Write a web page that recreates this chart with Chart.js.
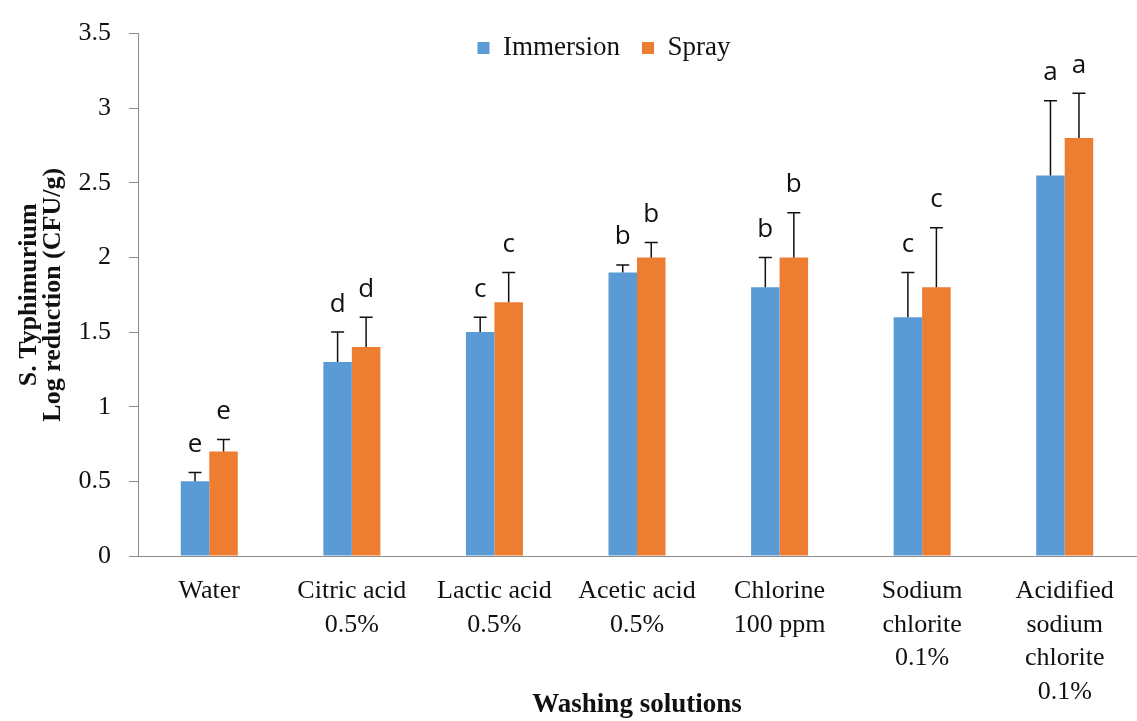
<!DOCTYPE html>
<html>
<head>
<meta charset="utf-8">
<script src="https://cdn.jsdelivr.net/npm/chart.js@4.4.1/dist/chart.umd.min.js"></script>
<style>
html, body { margin: 0; padding: 0; background: #fff; }
</style>
</head>
<body>
<canvas id="myChart" width="1137" height="721"></canvas>
<script>
// data
const categories = ["Water", ["Citric acid", "0.5%"], ["Lactic acid", "0.5%"], ["Acetic acid", "0.5%"],
    ["Chlorine", "100 ppm"], ["Sodium", "chlorite", "0.1%"], ["Acidified", "sodium", "chlorite", "0.1%"]];
const seriesNames = ["Immersion", "Spray"];
const immersion = [0.5, 1.3, 1.5, 1.9, 1.8, 1.6, 2.55];
const spray = [0.7, 1.4, 1.7, 2.0, 2.0, 1.8, 2.8];
const immersionErr = [0.06, 0.2, 0.1, 0.05, 0.2, 0.3, 0.5];
const sprayErr = [0.08, 0.2, 0.2, 0.1, 0.3, 0.4, 0.3];
const immersionLetters = ["e", "d", "c", "b", "b", "c", "a"];
const sprayLetters = ["e", "d", "c", "b", "b", "c", "a"];
const yMax = 3.5;
const yStep = 0.5;

Chart.defaults.font.family = '"Liberation Serif", "Times New Roman", serif';
Chart.defaults.color = "#111";

// error bars + significance letters on top of each bar
const errorBars = {
    id: "errorBars",
    afterDatasetsDraw(chart) {
        let ctx = chart.ctx;
        let yScale = chart.scales.y;
        ctx.save();
        chart.data.datasets.forEach((ds, i) => {
            let meta = chart.getDatasetMeta(i);
            meta.data.forEach((bar, j) => {
                let top = yScale.getPixelForValue(ds.data[j] + ds.errors[j]);
                ctx.strokeStyle = "#111";
                ctx.lineWidth = 1.5;
                ctx.beginPath();
                ctx.moveTo(bar.x, bar.y);
                ctx.lineTo(bar.x, top);
                ctx.moveTo(bar.x - 6.5, top);
                ctx.lineTo(bar.x + 6.5, top);
                ctx.stroke();
                ctx.fillStyle = "#111";
                ctx.font = '26px "Open Sans", sans-serif';
                ctx.textAlign = "center";
                ctx.textBaseline = "middle";
                ctx.fillText(ds.letters[j], bar.x, top - 28);
            });
        });
        ctx.restore();
    }
};

// legend sits inside the plot top, a bit left of centre
const legendPlace = {
    id: "legendPlace",
    beforeInit(chart) {
        const fit = chart.legend.fit;
        chart.legend.fit = function () {
            fit.call(this);
            this.height = 21;
        };
    },
    afterLayout(chart) {
        chart.legend.left = 72;
        chart.legend.right = 1136;
        chart.legend.bottom = 62;
    }
};

new Chart("myChart", {
    type: "bar",
    data: {
        labels: categories,
        datasets: [{
            label: seriesNames[0],
            data: immersion,
            errors: immersionErr,
            letters: immersionLetters,
            backgroundColor: "#5B9BD5",
            borderWidth: 0
        }, {
            label: seriesNames[1],
            data: spray,
            errors: sprayErr,
            letters: sprayLetters,
            backgroundColor: "#ED7D31",
            borderWidth: 0
        }]
    },
    options: {
        responsive: false,
        animation: false,
        categoryPercentage: 0.4,
        barPercentage: 1.0,
        layout: { padding: { top: 0, right: 1, bottom: 0, left: 0 } },
        plugins: {
            tooltip: { enabled: false },
            legend: {
                position: "top",
                labels: {
                    font: { size: 27 },
                    color: "#111",
                    boxWidth: 12,
                    boxHeight: 12,
                    padding: 22
                }
            }
        },
        scales: {
            x: {
                grid: { display: false, drawTicks: false },
                border: { display: true, color: "#8c8c8c", width: 1 },
                ticks: {
                    font: { size: 26, lineHeight: 1.3 },
                    color: "#111",
                    padding: 18,
                    maxRotation: 0,
                    autoSkip: false
                },
                title: {
                    display: true,
                    text: "Washing solutions",
                    font: { size: 27, weight: "bold" },
                    color: "#111",
                    padding: { top: 0, bottom: 0 }
                },
                afterFit(scale) { scale.height = 165; }
            },
            y: {
                min: 0,
                max: yMax,
                ticks: {
                    stepSize: yStep,
                    font: { size: 26 },
                    color: "#111",
                    padding: 18,
                    callback: (v) => String(Math.round(v * 10) / 10)
                },
                grid: { drawOnChartArea: false, drawTicks: true, tickLength: 9, color: "#8c8c8c" },
                border: { display: true, color: "#8c8c8c", width: 1 },
                title: {
                    display: true,
                    text: ["S. Typhimurium", "Log reduction (CFU/g)"],
                    font: { size: 26, weight: "bold", lineHeight: 0.92 },
                    color: "#111",
                    padding: { top: 17, bottom: 0 }
                },
                afterFit(scale) { scale.width = 138; }
            }
        }
    },
    plugins: [errorBars, legendPlace]
});
</script>
</body>
</html>
